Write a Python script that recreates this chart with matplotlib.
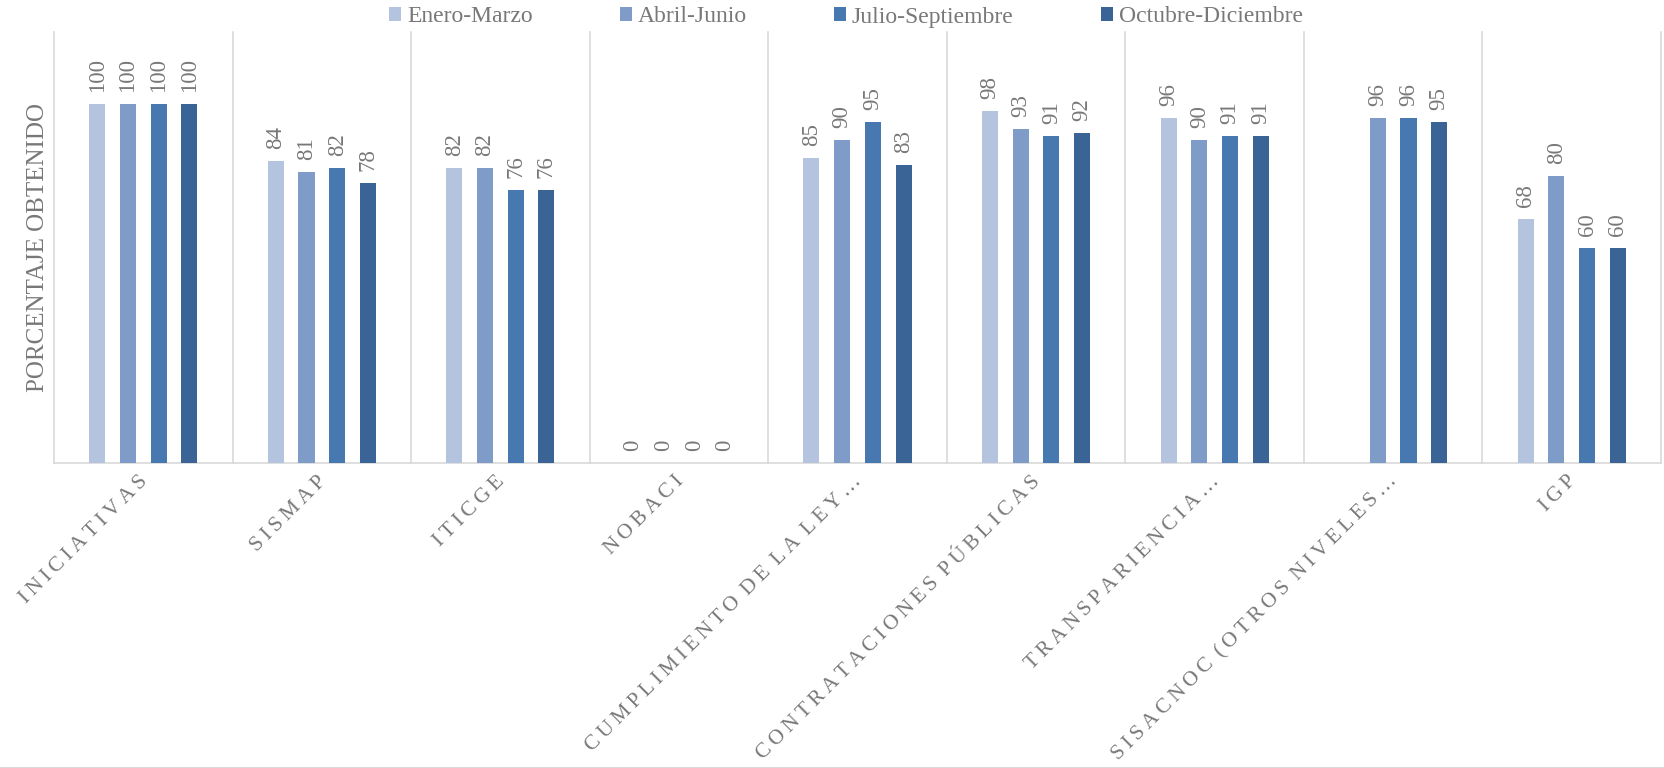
import numpy as np
import matplotlib
matplotlib.use("Agg")
import matplotlib.pyplot as plt
from matplotlib.lines import Line2D

categories = ["INICIATIVAS", "SISMAP", "ITICGE", "NOBACI",
              "CUMPLIMIENTO DE LA LEY...", "CONTRATACIONES PÚBLICAS",
              "TRANSPARIENCIA...", "SISACNOC (OTROS NIVELES...", "IGP"]
series_names = ["Enero-Marzo", "Abril-Junio", "Julio-Septiembre", "Octubre-Diciembre"]
enero_marzo = [100, 84, 82, 0, 85, 98, 96, np.nan, 68]
abril_junio = [100, 81, 82, 0, 90, 93, 90, 96, 80]
julio_septiembre = [100, 82, 76, 0, 95, 91, 91, 96, 60]
octubre_diciembre = [100, 78, 76, 0, 83, 92, 91, 95, 60]
series = [enero_marzo, abril_junio, julio_septiembre, octubre_diciembre]
colors = ["#B4C4DE", "#7F9CC8", "#4878B0", "#3B6496"]

plt.rcParams['font.family'] = ['Liberation Serif', 'DejaVu Serif']
TXT = "#787878"
GRID = "#D9D9D9"

fig = plt.figure(figsize=(16.64, 7.68), dpi=100)
ax = fig.add_axes([54/1664, (768-463)/768, (1661-54)/1664, (463-32)/768])

x = np.arange(len(categories))
pitch = 0.172
width = 0.09
handles = []
for j, (vals, col, name) in enumerate(zip(series, colors, series_names)):
    vals = np.array(vals, dtype=float)
    pos = x + (j - 1.5) * pitch
    mask = ~np.isnan(vals)
    b = ax.bar(pos[mask], vals[mask], width=width, color=col, label=name, zorder=3)
    handles.append(b)
    for p, v in zip(pos[mask], vals[mask]):
        ax.annotate(f"{v:.0f}", xy=(p, v), xytext=(0, 12), textcoords='offset pixels',
                    rotation=90, ha='center', va='bottom', fontsize=16.5, color=TXT)

ax.set_xlim(-0.5, len(categories) - 0.5)
ax.set_ylim(0, 120)
for b in np.arange(-0.5, len(categories), 1.0):
    ax.axvline(b, color=GRID, lw=1.2, zorder=1, clip_on=False)
for s in ['top', 'left', 'right']:
    ax.spines[s].set_visible(False)
ax.spines['bottom'].set_color(GRID)
ax.spines['bottom'].set_linewidth(1.2)
ax.set_xticks([])
ax.set_yticks([])

HS = "\u2009"
def spaced(s):
    s = s.replace("...", "\u2026")
    words = s.split(" ")
    return (HS + " ").join(HS.join(list(w)) for w in words)

for i, c in enumerate(categories):
    ax.annotate(spaced(c), xy=(i, 0), xycoords=('data', 'axes fraction'),
                xytext=(-5, -9), textcoords='offset pixels', rotation=45,
                ha='right', va='top', rotation_mode='anchor', fontsize=15.5, color=TXT)

fig.text(38/1664, 1 - 247/768, "PORCENTAJE OBTENIDO", rotation=90, ha='center',
         va='center', fontsize=18, color=TXT)

leg = fig.legend(handles=handles, labels=series_names, ncol=4, loc='center',
                 bbox_to_anchor=(846/1664, 1 - 17/768), frameon=False, fontsize=17,
                 handlelength=0.5, handleheight=0.5, handletextpad=0.25,
                 columnspacing=3.7, borderpad=0, borderaxespad=0)
for t in leg.get_texts():
    t.set_color(TXT)

fig.add_artist(Line2D([0, 1], [0.5/768, 0.5/768], color=GRID, lw=1.5, transform=fig.transFigure))

fig.savefig("out.png", dpi=100)
